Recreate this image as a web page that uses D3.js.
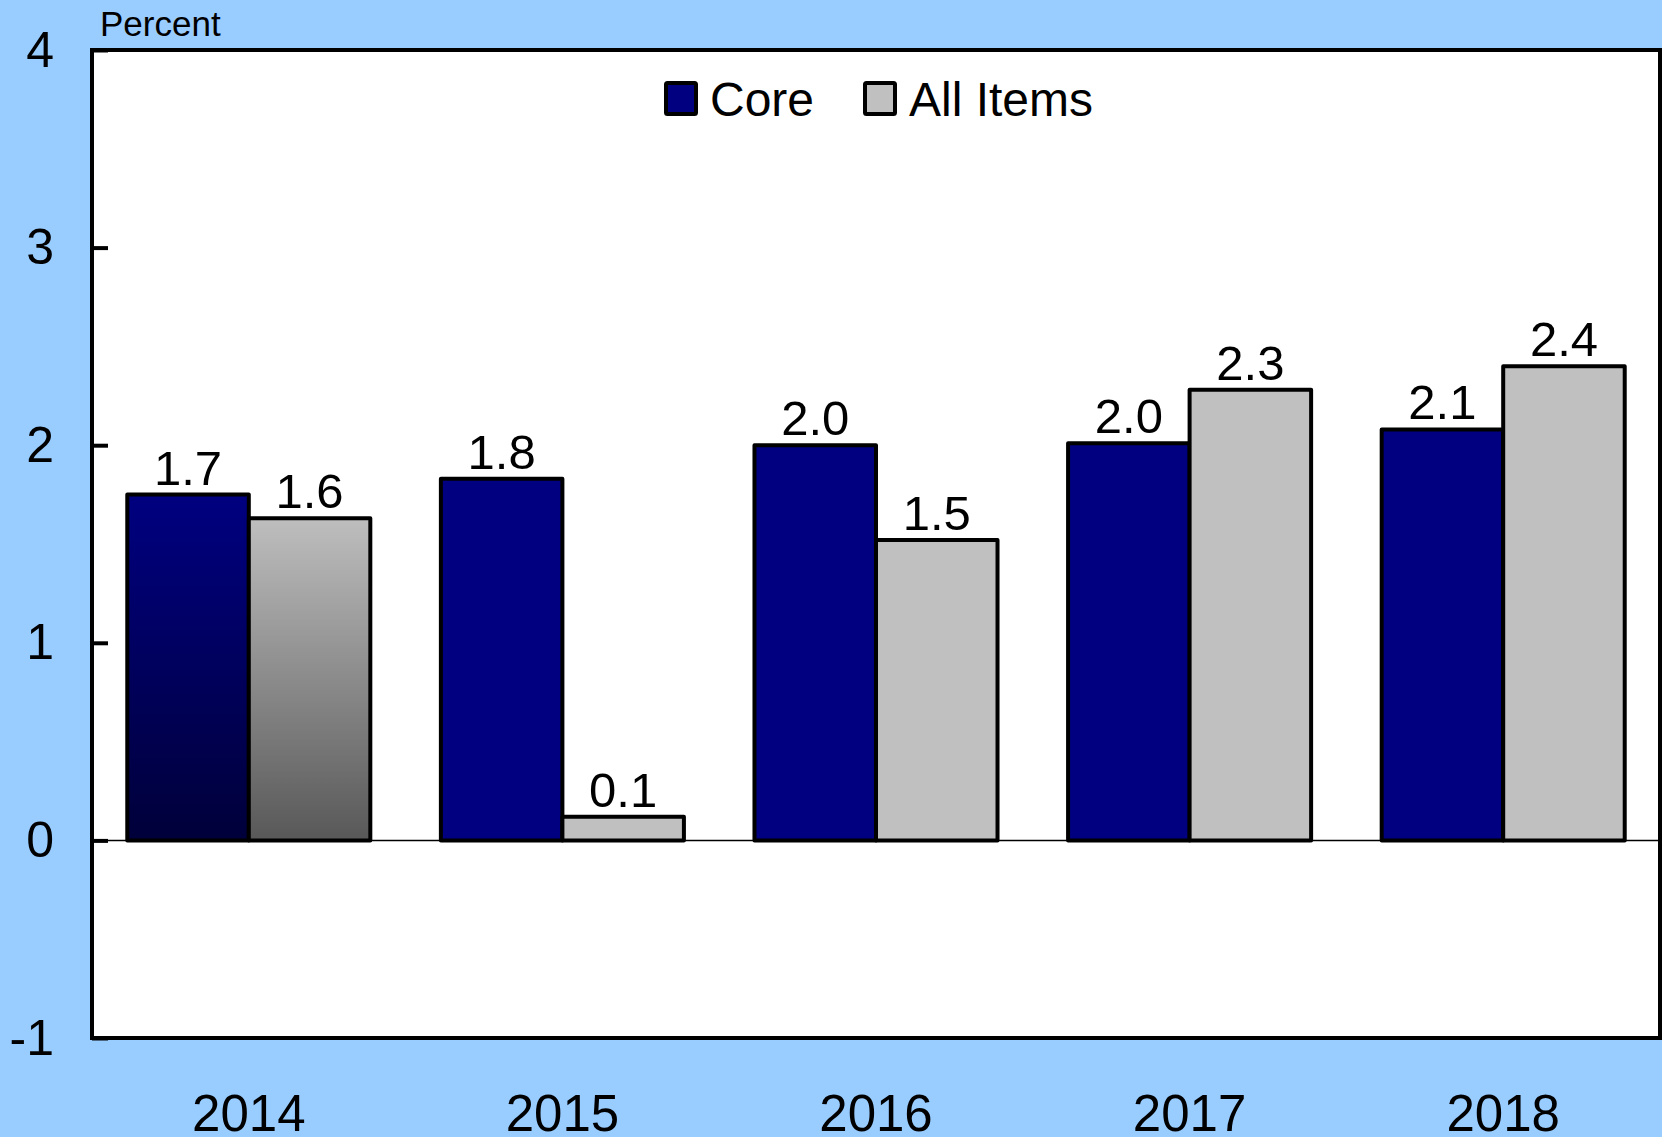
<!DOCTYPE html>
<html>
<head>
<meta charset="utf-8">
<script src="https://cdn.jsdelivr.net/npm/d3@7"></script>
<style>
  html, body { margin: 0; padding: 0; background: #99ccff; }
  svg { display: block; }
  text { font-family: "Liberation Sans", Arial, sans-serif; fill: #000; }
</style>
</head>
<body>
<div id="chart"></div>
<script>

// data
var years = ["2014", "2015", "2016", "2017", "2018"];
var series = ["Core", "All Items"];
var core = [1.75, 1.83, 2.0, 2.01, 2.08];
var allItems = [1.63, 0.12, 1.52, 2.28, 2.40];
var coreLabels = ["1.7", "1.8", "2.0", "2.0", "2.1"];
var allLabels = ["1.6", "0.1", "1.5", "2.3", "2.4"];
var yTicks = [-1, 0, 1, 2, 3, 4];

var W = 1662, H = 1137;
var plotL = 92, plotR = 1660, plotT = 50, plotB = 1038;

var colors = {"Core": "#000080", "All Items": "#c0c0c0"};

var svg = d3.select("#chart").append("svg")
  .attr("width", W)
  .attr("height", H);

svg.append("rect")
  .attr("width", W).attr("height", H)
  .attr("fill", "#99ccff");

// gradients used for the first year only
var defs = svg.append("defs");
var g1 = defs.append("linearGradient").attr("id", "gradCore")
  .attr("x1", 0).attr("y1", 0).attr("x2", 0).attr("y2", 1);
g1.append("stop").attr("offset", "0%").attr("stop-color", "#000080");
g1.append("stop").attr("offset", "100%").attr("stop-color", "#00003a");
var g2 = defs.append("linearGradient").attr("id", "gradAll")
  .attr("x1", 0).attr("y1", 0).attr("x2", 0).attr("y2", 1);
g2.append("stop").attr("offset", "0%").attr("stop-color", "#bebebe");
g2.append("stop").attr("offset", "100%").attr("stop-color", "#585858");

var x = d3.scaleBand()
  .domain(years)
  .range([plotL, plotR])
  .paddingInner(0.225)
  .paddingOuter(0.1125);

var xs = d3.scaleBand()
  .domain(series)
  .range([0, x.bandwidth()]);

var y = d3.scaleLinear()
  .domain([-1, 4])
  .range([plotB, plotT]);

// plot background
svg.append("rect")
  .attr("x", plotL).attr("y", plotT)
  .attr("width", plotR - plotL).attr("height", plotB - plotT)
  .attr("fill", "#fff");

// zero line
svg.append("line")
  .attr("x1", plotL).attr("x2", plotR)
  .attr("y1", y(0)).attr("y2", y(0))
  .attr("stroke", "#000")
  .attr("stroke-width", 1.5);

var rows = years.map(function(d, i) {
  return [
    {year: d, i: i, key: "Core", value: core[i], label: coreLabels[i]},
    {year: d, i: i, key: "All Items", value: allItems[i], label: allLabels[i]}
  ];
});

var groups = svg.selectAll(".grp")
  .data(rows)
  .enter()
  .append("g")
    .attr("class", "grp")
    .attr("transform", function(d, i) { return "translate(" + x(years[i]) + ",0)"; });

groups.selectAll("rect")
  .data(function(d) { return d; })
  .enter()
  .append("rect")
    .attr("x", function(d) { return xs(d.key); })
    .attr("width", xs.bandwidth())
    .attr("y", function(d) { return y(Math.max(0, d.value)); })
    .attr("height", function(d) { return Math.abs(y(d.value) - y(0)); })
    .attr("fill", function(d) {
      if (d.i === 0) return d.key === "Core" ? "url(#gradCore)" : "url(#gradAll)";
      return colors[d.key];
    })
    .attr("stroke", "#000")
    .attr("stroke-width", 4)
    .attr("stroke-linejoin", "round");

groups.selectAll("text")
  .data(function(d) { return d; })
  .enter()
  .append("text")
    .attr("x", function(d) { return xs(d.key) + xs.bandwidth() / 2; })
    .attr("y", function(d) { return y(d.value) - 10; })
    .attr("text-anchor", "middle")
    .style("font-size", "49px")
    .text(function(d) { return d.label; });

// y axis, ticks pointing inward
var yAxis = d3.axisLeft(y)
  .tickValues(yTicks)
  .tickSize(-16)
  .tickPadding(38)
  .tickFormat(function(d) { return String(d); });

var gy = svg.append("g")
  .attr("transform", "translate(" + plotL + ",0)")
  .call(yAxis);
gy.select(".domain").remove();
gy.selectAll(".tick line").attr("stroke", "#000").attr("stroke-width", 4);
gy.selectAll(".tick text")
  .style("font-size", "50px")
  .attr("font-family", null);

// x axis labels
var xAxis = d3.axisBottom(x).tickSize(0).tickPadding(57);
var gx = svg.append("g")
  .attr("transform", "translate(0," + plotB + ")")
  .call(xAxis);
gx.select(".domain").remove();
gx.selectAll(".tick text")
  .style("font-size", "51px")
  .attr("font-family", null);

// frame
svg.append("rect")
  .attr("x", plotL).attr("y", plotT)
  .attr("width", plotR - plotL).attr("height", plotB - plotT)
  .attr("fill", "none")
  .attr("stroke", "#000")
  .attr("stroke-width", 4);

// unit label
svg.append("text")
  .attr("x", 100)
  .attr("y", 36)
  .style("font-size", "35px")
  .text("Percent");

// legend
var legX = [664, 863];
var leg = svg.selectAll(".leg")
  .data(series)
  .enter()
  .append("g")
    .attr("class", "leg")
    .attr("transform", function(d, i) { return "translate(" + legX[i] + ",81)"; });

leg.append("rect")
  .attr("x", 2).attr("y", 2)
  .attr("width", 30).attr("height", 31)
  .attr("fill", function(d) { return colors[d]; })
  .attr("stroke", "#000")
  .attr("stroke-width", 4)
  .attr("rx", 1.5);

leg.append("text")
  .attr("x", 46)
  .attr("y", 35)
  .style("font-size", "48px")
  .text(function(d) { return d; });

</script>
</body>
</html>
